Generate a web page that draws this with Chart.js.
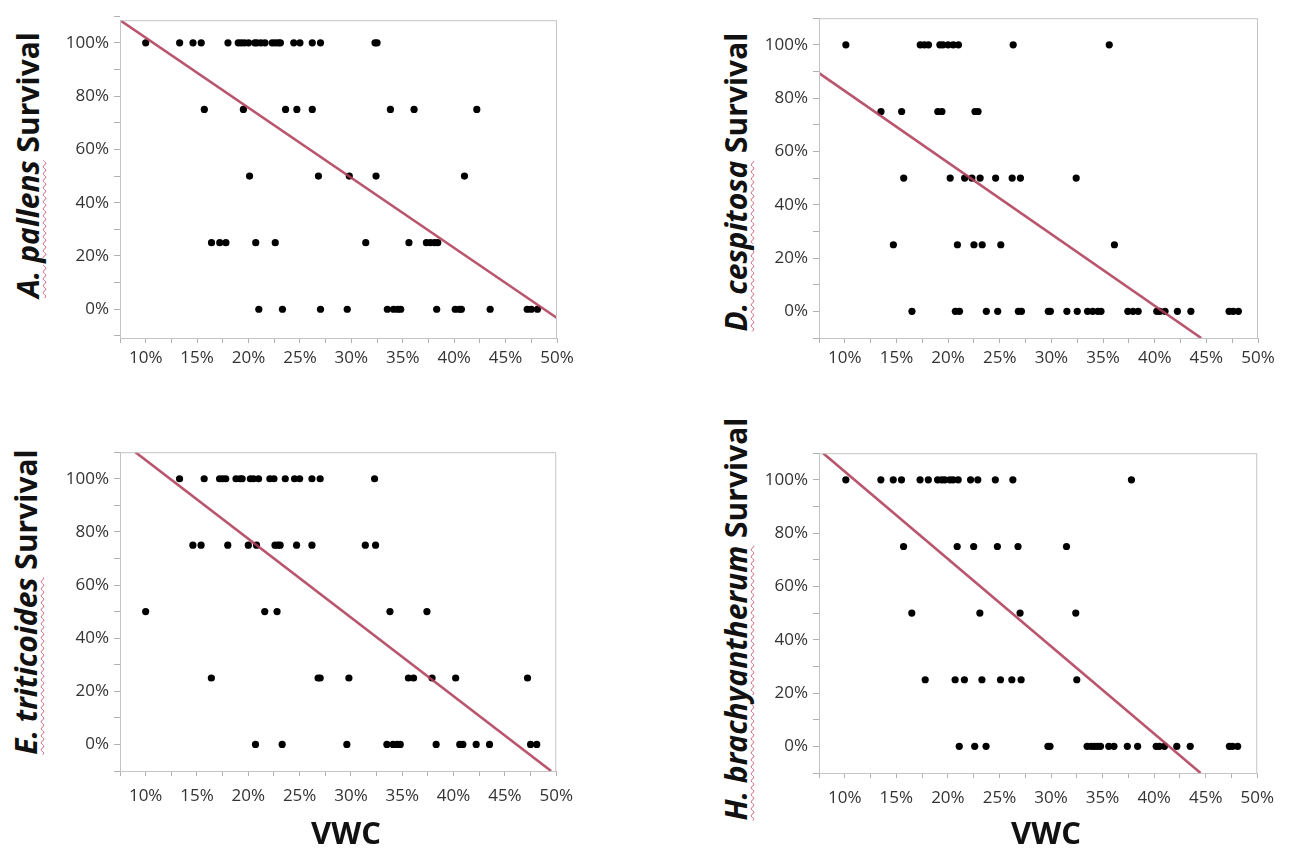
<!DOCTYPE html>
<html>
<head>
<meta charset="utf-8">
<script src="https://cdn.jsdelivr.net/npm/chart.js@4.4.1/dist/chart.umd.min.js"></script>
<style>
  body { margin: 0; background: #fff; width: 1293px; height: 851px; position: relative; overflow: hidden; font-family: "Open Sans", Lato, sans-serif; }
  canvas { position: absolute; }
  .ytitle { position: absolute; width: 460px; height: 36px; line-height: 36px; text-align: center;
            font-weight: bold; font-size: 30px; color: #111; transform: rotate(-90deg); white-space: nowrap; }
  .ytitle i { text-decoration: underline wavy #d0607a; text-decoration-thickness: 1px; text-underline-offset: 3px; }
  .xtitle { position: absolute; width: 200px; text-align: center; font-weight: bold; font-size: 31px; color: #111; }
</style>
</head>
<body>
<canvas id="c1"></canvas>
<canvas id="c2"></canvas>
<canvas id="c3"></canvas>
<canvas id="c4"></canvas>

<div class="ytitle" style="left:-202px; top:147px;"><i>A. pallens</i> Survival</div>
<div class="ytitle" style="left:506px; top:164px;"><i>D. cespitosa</i> Survival</div>
<div class="ytitle" style="left:-204px; top:584px;"><i>E. triticoides</i> Survival</div>
<div class="ytitle" style="left:506px; top:601px;"><i>H. brachyantherum</i> Survival</div>
<div class="xtitle" style="left:246px; top:811px;">VWC</div>
<div class="xtitle" style="left:946px; top:811px;">VWC</div>

<script>
// survival levels (rows of dots) and VWC values (%)
const survivalLevels = [100, 75, 50, 25, 0];

const pallensVWC = [
  [10.0, 13.3, 14.6, 15.4, 18.0, 19.0, 19.3, 19.6, 20.0, 20.6, 20.8, 21.2, 21.6, 22.3, 22.6, 22.9, 23.1, 24.4, 25.0, 26.2, 27.0, 32.3, 32.5],
  [15.7, 19.5, 23.6, 24.7, 26.2, 33.8, 36.1, 42.2],
  [20.1, 26.8, 29.8, 32.4, 41.0],
  [16.4, 17.2, 17.8, 20.7, 22.6, 31.4, 35.6, 37.3, 37.7, 38.1, 38.4],
  [21.0, 23.3, 27.0, 29.6, 33.5, 34.1, 34.5, 34.8, 38.3, 40.1, 40.5, 40.7, 43.5, 47.1, 47.5, 48.1]
];
const cespitosaVWC = [
  [10.1, 17.3, 17.7, 18.1, 19.2, 19.5, 20.0, 20.5, 21.0, 26.3, 35.6],
  [13.5, 15.5, 19.0, 19.4, 22.6, 22.9],
  [15.7, 20.2, 21.6, 22.3, 23.1, 24.6, 26.2, 27.0, 32.4],
  [14.7, 20.9, 22.5, 23.3, 25.1, 36.1],
  [16.5, 20.7, 21.1, 23.7, 24.8, 26.8, 27.1, 29.7, 29.9, 31.5, 32.5, 33.5, 34.0, 34.5, 34.8, 37.4, 37.9, 38.4, 40.2, 40.5, 41.0, 42.2, 43.5, 47.2, 47.6, 48.1]
];
const triticoidesVWC = [
  [13.3, 15.7, 17.2, 17.5, 17.8, 18.8, 19.2, 19.4, 20.2, 20.5, 21.0, 22.1, 22.5, 23.6, 24.5, 25.0, 26.2, 27.0, 32.3],
  [14.6, 15.4, 18.0, 20.0, 20.8, 22.6, 22.9, 23.1, 24.7, 26.2, 31.4, 32.4],
  [10.0, 21.6, 22.8, 33.8, 37.4],
  [16.4, 26.8, 27.0, 29.8, 35.6, 36.1, 37.9, 40.2, 47.2],
  [20.7, 23.3, 29.6, 33.5, 34.1, 34.5, 34.8, 38.3, 40.6, 40.9, 42.2, 43.5, 47.5, 48.1]
];
const brachyVWC = [
  [10.1, 13.5, 14.7, 15.5, 17.3, 18.1, 19.0, 19.4, 19.7, 20.2, 20.5, 21.0, 22.2, 22.9, 24.6, 26.3, 37.8],
  [15.7, 20.9, 22.5, 24.8, 26.8, 31.5],
  [16.5, 23.1, 27.0, 32.4],
  [17.8, 20.7, 21.6, 23.3, 25.1, 26.2, 27.1, 32.5],
  [21.1, 22.6, 23.7, 29.7, 29.9, 33.5, 33.9, 34.2, 34.5, 34.8, 35.6, 36.1, 37.4, 38.4, 40.2, 40.5, 41.0, 42.2, 43.5, 47.3, 47.6, 48.1]
];

// fitted lines: [vwc, survival] end points
const fitPallens = [[7.5, 108.5], [50, -3.3]];
const fitCespitosa = [[7.5, 89.4], [44.5, -10]];
const fitTriticoides = [[9.0, 110], [49.5, -10]];
const fitBrachy = [[7.9, 110], [44.5, -10]];

// tick positions
const xTicks = [7.5, 10, 12.5, 15, 17.5, 20, 22.5, 25, 27.5, 30, 32.5, 35, 37.5, 40, 42.5, 45, 47.5, 50];
const yTicks = [-10, 0, 10, 20, 30, 40, 50, 60, 70, 80, 90, 100, 110];

// frame around the plot area
const framePlugin = {
  id: "frame",
  afterDraw(chart) {
    const a = chart.chartArea, ctx = chart.ctx;
    ctx.save();
    ctx.strokeStyle = "#c4c4c4";
    ctx.lineWidth = 1;
    ctx.strokeRect(a.left + 0.5, a.top + 0.5, a.right - a.left - 1, a.bottom - a.top);
    ctx.restore();
  }
};

function makePanel(id, box, vwc, fit, yMin, yMax, xPad) {
  const padL = 62, padT = 6, padR = 26, padB = 44;
  const cv = document.getElementById(id);
  cv.style.left = (box.l - padL) + "px";
  cv.style.top = (box.t - padT) + "px";
  cv.width = box.r - box.l + padL + padR;
  cv.height = box.b - box.t + padT + padB;

  const pts = [];
  vwc.forEach((row, i) => row.forEach(v => pts.push({ x: v, y: survivalLevels[i] })));

  new Chart(cv.getContext("2d"), {
    type: "scatter",
    data: {
      datasets: [
        {
          data: pts,
          backgroundColor: "#000",
          borderWidth: 0,
          pointRadius: 3.6,
          order: 1
        },
        {
          data: fit.map(p => ({ x: p[0], y: p[1] })),
          showLine: true,
          borderColor: "rgba(176, 62, 90, 0.88)",
          borderWidth: 2.6,
          pointRadius: 0,
          order: 0
        }
      ]
    },
    options: {
      responsive: false,
      animation: false,
      layout: { padding: { top: padT, right: padR, left: 0, bottom: 0 } },
      plugins: { legend: { display: false }, tooltip: { enabled: false } },
      scales: {
        x: {
          type: "linear",
          min: 7.5,
          max: 50,
          afterBuildTicks: ax => { ax.ticks = xTicks.map(v => ({ value: v })); },
          afterFit: ax => { ax.height = padB; },
          ticks: {
            autoSkip: false,
            maxRotation: 0,
            padding: xPad,
            color: "#333",
            font: { family: "Open Sans", size: 17 },
            callback: v => (v % 5 === 0 ? v + "%" : "")
          },
          grid: { drawOnChartArea: false, tickLength: 5, color: "#b0b0b0" },
          border: { color: "#c4c4c4" }
        },
        y: {
          min: yMin,
          max: yMax,
          afterBuildTicks: ax => { ax.ticks = yTicks.map(v => ({ value: v })); },
          afterFit: ax => { ax.width = padL; },
          ticks: {
            autoSkip: false,
            padding: 5,
            color: "#333",
            font: { family: "Open Sans", size: 17 },
            callback: v => (v >= 0 && v <= 100 && v % 20 === 0 ? v + "%" : "")
          },
          grid: { drawOnChartArea: false, tickLength: 6, color: "#b0b0b0" },
          border: { color: "#c4c4c4" }
        }
      }
    },
    plugins: [framePlugin]
  });
}

makePanel("c1", { l: 120, t: 11, r: 557, b: 338 }, pallensVWC, fitPallens, -10.8, 108.5, 5);
makePanel("c2", { l: 819, t: 9, r: 1258, b: 338 }, cespitosaVWC, fitCespitosa, -10, 110, 5);
makePanel("c3", { l: 120, t: 443, r: 557, b: 771 }, triticoidesVWC, fitTriticoides, -10, 110, 10);
makePanel("c4", { l: 819, t: 444, r: 1258, b: 773 }, brachyVWC, fitBrachy, -10, 110, 10);
</script>
</body>
</html>
